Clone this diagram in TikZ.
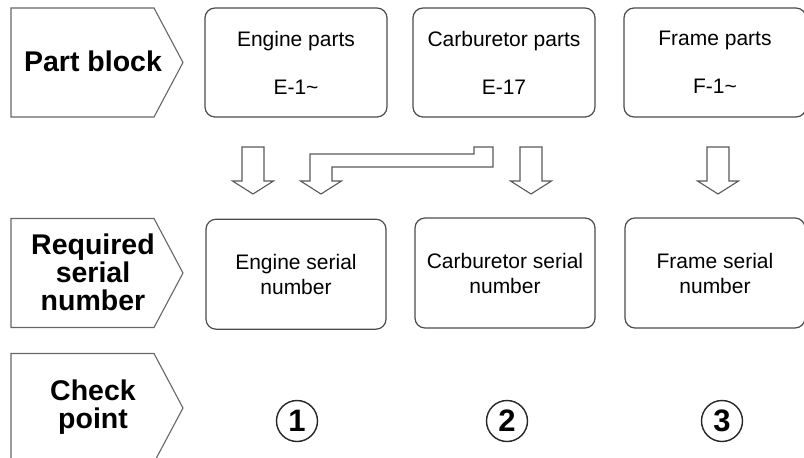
\documentclass[tikz,border=0pt]{standalone}
\usepackage{fontspec}
\setmainfont{Liberation Sans}
\usetikzlibrary{positioning,shapes.symbols}

\begin{document}
\begin{tikzpicture}
  [x=1pt,y=-1pt,
   rowhead/.style={signal,signal to=east,signal pointer angle=124,draw=black!60,line width=1.1pt,minimum width=172pt,minimum height=109pt,inner sep=0pt},
   headtext/.style={align=center,inner sep=0pt,font=\fontsize{28.5}{28}\selectfont\bfseries},
   part/.style={rectangle,rounded corners=10pt,draw=black!70,line width=1.2pt,minimum width=182pt,minimum height=109pt,align=center,font=\fontsize{21}{48}\selectfont},
   serial/.style={part,minimum width=180pt,minimum height=110pt,font=\fontsize{21}{25}\selectfont},
   checknum/.style={circle,draw=black!85,line width=1.4pt,minimum size=41pt,inner sep=0pt,font=\fontsize{31}{31}\selectfont\bfseries},
   blockarrow/.style={draw=black!65,line width=1.1pt,fill=white}]
  \useasboundingbox (0,0) rectangle (804,458);
  \node[rowhead] (h_part) at (82.5,62.5) {};
  \node[rowhead] (h_serial) at (82.5,273) {};
  \node[rowhead] (h_check) at (82.5,408) {};
  \node[headtext] (t_part) at (93,61) {Part block};
  \node[headtext] (t_serial) at (93,272) {Required\\serial\\number};
  \node[headtext] (t_check) at (93,407) {Check\\point};
  \node[part] (p_engine) at (296,62.5) {Engine parts\\E-1\textasciitilde};
  \node[part] (p_carb) at (504,62.5) {Carburetor parts\\E-17};
  \node[part] (p_frame) at (715,62.5) {Frame parts\\F-1\textasciitilde};
  \node[serial] (s_engine) [below=101pt of p_engine] {Engine serial\\number};
  \node[serial] (s_carb) at (505,273) {Carburetor serial\\number};
  \node[serial] (s_frame) at (715,273) {Frame serial\\number};
  \node[checknum] (c_one) at (297,421) {1};
  \node[checknum] (c_two) at (507,421) {2};
  \node[checknum] (c_three) at (722,421) {3};
  \foreach \x in {253,531,718}
    \draw[blockarrow] (\x-11,147) -- (\x+11,147) -- (\x+11,181) -- (\x+20.5,181) -- (\x,194) -- (\x-20.5,181) -- (\x-11,181) -- cycle;
  \draw[blockarrow] (493,147) -- (474,147) -- (474,154) -- (310,154) -- (310,181) -- (300.5,181) -- (321,194) -- (341.5,181) -- (332,181) -- (332,167) -- (493,167) -- cycle;
\end{tikzpicture}
\end{document}
